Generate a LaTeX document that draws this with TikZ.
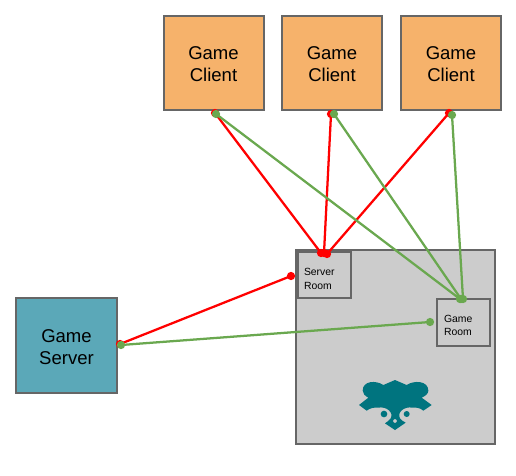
\documentclass[tikz,border=0pt]{standalone}
\usepackage{fontspec}
\setmainfont{Liberation Sans}
\definecolor{clientfill}{HTML}{F6B26B}
\definecolor{serverfill}{HTML}{5BA8B8}
\definecolor{roomfill}{HTML}{CCCCCC}
\definecolor{edgegray}{HTML}{666666}
\definecolor{lnkred}{HTML}{FF0000}
\definecolor{lnkgreen}{HTML}{6AA84F}
\definecolor{logoteal}{HTML}{00747F}
\tikzset{
  x=0.75pt,y=-0.75pt,
  box/.style={draw=edgegray,line width=1.5pt,rectangle,inner sep=0pt,align=center,font=\fontsize{13.9pt}{16.5pt}\selectfont,text=black},
  smallbox/.style={box,fill=roomfill,align=left,font=\fontsize{7.8pt}{10.2pt}\selectfont},
  redlink/.style={draw=lnkred,line width=1.7pt},
  greenlink/.style={draw=lnkgreen,line width=1.7pt},
  reddot/.style={circle,fill=lnkred,inner sep=0pt,minimum size=6.2pt},
  greendot/.style={circle,fill=lnkgreen,inner sep=0pt,minimum size=6.2pt},
}
\newcommand{\boxat}[7]{\node[#1,minimum width=#4*0.75pt,minimum height=#5*0.75pt] (#2) at (#6,#7) {#3};}
\begin{document}
\begin{tikzpicture}
\useasboundingbox (0,0) rectangle (516,475);
\boxat{box,fill=clientfill}{c1}{\rule{0pt}{12pt}Game\\Client}{100}{94}{213.5}{63}
\boxat{box,fill=clientfill}{c2}{\rule{0pt}{12pt}Game\\Client}{100}{94}{332}{63}
\boxat{box,fill=clientfill}{c3}{\rule{0pt}{12pt}Game\\Client}{100}{94}{451}{63}
\boxat{box,fill=serverfill}{srv}{\rule{0pt}{12pt}Game\\Server}{101}{95}{66.5}{345.5}
\node[box,fill=roomfill,minimum width=199*0.75pt,minimum height=194*0.75pt] (room) at (395.5,347) {};
\boxat{smallbox,text width=30.75pt}{sr}{\rule{0pt}{11.6pt}Server\\Room}{53}{46}{324.5}{275}
\boxat{smallbox,text width=29.25pt}{gr}{\rule{0pt}{10.1pt}Game\\Room}{53}{47}{463.5}{322.5}
% logo
\fill[logoteal,even odd rule,shift={(340,360)},x=0.25pt,y=-0.25pt]
 (165,60) -- (200,75) .. controls (222,60) and (265,62) .. (265,92)
 .. controls (265,100) and (257,108) .. (245,113) -- (275,135) -- (250,152)
 .. controls (240,143) and (228,142) .. (218,143)
 .. controls (192,138) and (170,158) .. (180,175) .. controls (184,181) and (190,184) .. (197,188)
 -- (165,210) -- (135,190) .. controls (142,185) and (148,181) .. (152,175)
 .. controls (162,158) and (140,138) .. (114,143)
 .. controls (104,142) and (92,143) .. (80,152) -- (57,135) -- (85,113)
 .. controls (75,108) and (68,100) .. (68,92) .. controls (68,62) and (108,60) .. (130,75) -- cycle
 (165,183) circle[radius=6];
\fill[logoteal,shift={(340,360)},x=0.25pt,y=-0.25pt] (132,162) circle[radius=10] (200,162) circle[radius=9];
% anchors
\coordinate (c1r) at (215,113);
\coordinate (c1g) at (216,114);
\coordinate (c2r) at (331,114);
\coordinate (c2g) at (334,114);
\coordinate (c3r) at (449,113);
\coordinate (c3g) at (452,115);
\coordinate (srt1) at (321,253);
\coordinate (srt2) at (324,253);
\coordinate (srt3) at (327,254);
\coordinate (srl) at (291,276);
\coordinate (grt1) at (460,299);
\coordinate (grt2) at (461,299);
\coordinate (grt3) at (463,299);
\coordinate (grl) at (430,322);
\coordinate (sva) at (120,344);
\coordinate (svb) at (121,345);
% links
\draw[redlink] (c1r) -- (srt1);
\draw[redlink] (c2r) -- (srt2);
\draw[redlink] (c3r) -- (srt3);
\draw[redlink] (sva) -- (srl);
\draw[greenlink] (c1g) -- (grt1);
\draw[greenlink] (c2g) -- (grt2);
\draw[greenlink] (c3g) -- (grt3);
\draw[greenlink] (svb) -- (grl);
% dots
\foreach \p in {c1r,c2r,c3r,srt1,srt2,srt3,srl,sva} \node[reddot] at (\p) {};
\foreach \p in {c1g,c2g,c3g,grt1,grt2,grt3,grl,svb} \node[greendot] at (\p) {};
\end{tikzpicture}
\end{document}
